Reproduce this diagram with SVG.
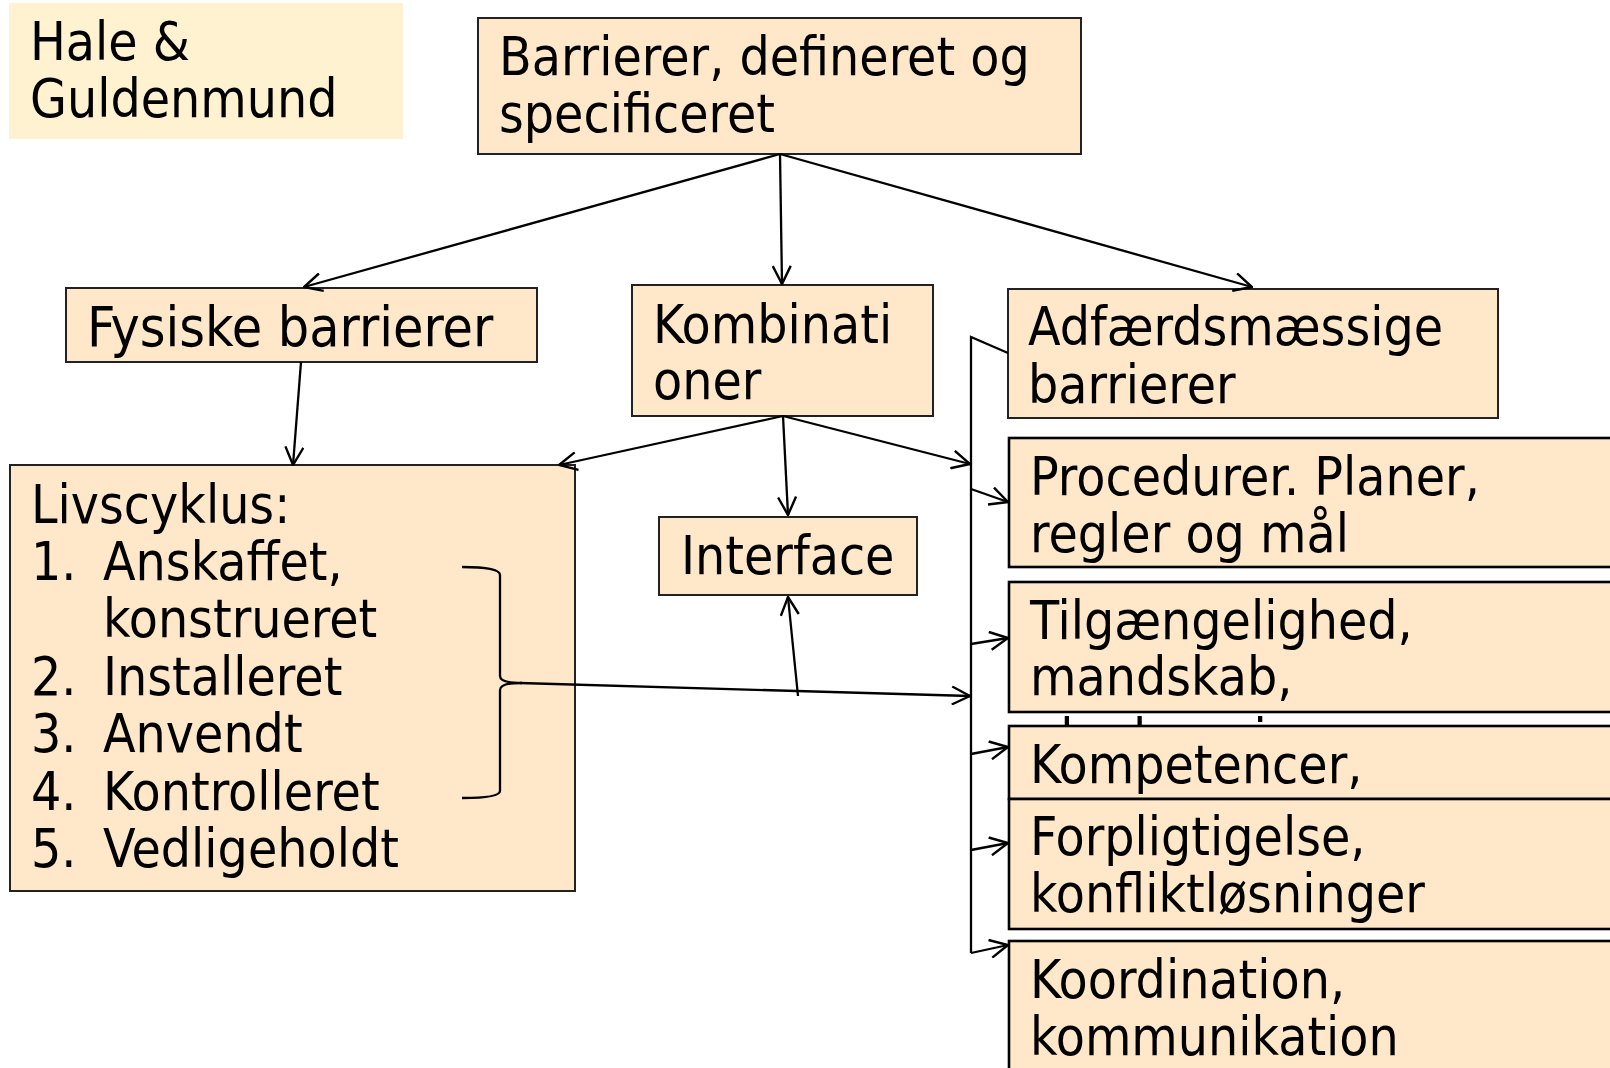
<svg xmlns="http://www.w3.org/2000/svg" width="1610" height="1068" viewBox="0 0 1610 1068">
<defs>
<style>
.t{font-family:"DejaVu Sans Condensed","DejaVu Sans",sans-serif;font-stretch:condensed;font-size:53px;fill:#000}
.box{fill:#FFE8C9;stroke:#222;stroke-width:2}
.boxb{fill:#FFE8C9;stroke:#000;stroke-width:2.6}
.c{fill:none;stroke:#000;stroke-width:2.3}
</style>
<marker id="ah" viewBox="0 0 20 20" refX="19" refY="10" markerWidth="20" markerHeight="20" markerUnits="userSpaceOnUse" orient="auto">
<path d="M1,1 L19,10 L1,19" fill="none" stroke="#000" stroke-width="2.4"/>
</marker>
</defs>
<rect width="1610" height="1068" fill="#fff"/>

<g id="hale">
<rect x="9" y="3" width="394" height="136" fill="#FFF2D0"/>
<text class="t" x="30" y="60">Hale &amp;</text>
<text class="t" x="30" y="117">Guldenmund</text>
</g>

<g id="top">
<rect class="box" x="478" y="18" width="603" height="136"/>
<text class="t" x="499" y="75">Barrierer, defineret og</text>
<text class="t" x="499" y="132">specificeret</text>
</g>

<g id="fysiske">
<rect class="box" x="66" y="288" width="471" height="74"/>
<text class="t" x="87" y="346" style="font-size:55px">Fysiske barrierer</text>
</g>

<g id="kombinationer">
<rect class="box" x="632" y="285" width="301" height="131"/>
<text class="t" x="653" y="343">Kombinati</text>
<text class="t" x="653" y="399">oner</text>
</g>

<g id="adfaerd">
<rect class="box" x="1008" y="289" width="490" height="129"/>
<text class="t" x="1028" y="345">Adfærdsmæssige</text>
<text class="t" x="1028" y="403">barrierer</text>
</g>

<g id="livscyklus">
<rect class="box" x="10" y="465" width="565" height="426"/>
<text class="t" x="31" y="523">Livscyklus:</text>
<text class="t" x="31" y="580">1.</text>
<text class="t" x="103" y="580">Anskaffet,</text>
<text class="t" x="103" y="637">konstrueret</text>
<text class="t" x="31" y="695">2.</text>
<text class="t" x="103" y="695">Installeret</text>
<text class="t" x="31" y="752">3.</text>
<text class="t" x="103" y="752">Anvendt</text>
<text class="t" x="31" y="810">4.</text>
<text class="t" x="103" y="810">Kontrolleret</text>
<text class="t" x="31" y="867">5.</text>
<text class="t" x="103" y="867">Vedligeholdt</text>
</g>

<g id="interface">
<rect class="box" x="659" y="517" width="258" height="78"/>
<text class="t" x="681" y="574">Interface</text>
</g>

<g id="procedurer">
<rect class="boxb" x="1009" y="438" width="640" height="129"/>
<text class="t" x="1030" y="495">Procedurer. Planer,</text>
<text class="t" x="1030" y="552">regler og mål</text>
</g>

<g id="tilgaengelighed">
<rect class="boxb" x="1009" y="582" width="640" height="130"/>
<text class="t" x="1030" y="639">Tilgængelighed,</text>
<text class="t" x="1030" y="695">mandskab,</text>
<text class="t" x="1030" y="757">planlægning</text>
</g>

<g id="kompetencer">
<rect class="boxb" x="1009" y="726" width="640" height="73"/>
<text class="t" x="1030" y="783">Kompetencer,</text>
</g>

<g id="forpligtigelse">
<rect class="boxb" x="1009" y="799" width="640" height="130"/>
<text class="t" x="1030" y="855">Forpligtigelse,</text>
<text class="t" x="1030" y="912">konfliktløsninger</text>
</g>

<g id="koordination">
<rect class="boxb" x="1009" y="941" width="640" height="140"/>
<text class="t" x="1030" y="998">Koordination,</text>
<text class="t" x="1030" y="1055">kommunikation</text>
</g>

<g id="connectors">
<path class="c" d="M780,154 L304,287" marker-end="url(#ah)"/>
<path class="c" d="M780,154 L782,284" marker-end="url(#ah)"/>
<path class="c" d="M780,154 L1252,287" marker-end="url(#ah)"/>
<path class="c" d="M301,362 L293,465" marker-end="url(#ah)"/>
<path class="c" d="M783,416 L559,465" marker-end="url(#ah)"/>
<path class="c" d="M783,416 L788,515" marker-end="url(#ah)"/>
<path class="c" d="M783,416 L970,464" marker-end="url(#ah)"/>
<path class="c" d="M1008,353 L971,337 L971,953"/>
<path class="c" d="M971,489 L1008,502" marker-end="url(#ah)"/>
<path class="c" d="M971,644 L1008,638" marker-end="url(#ah)"/>
<path class="c" d="M971,754 L1008,747" marker-end="url(#ah)"/>
<path class="c" d="M971,850 L1008,843" marker-end="url(#ah)"/>
<path class="c" d="M971,953 L1008,945" marker-end="url(#ah)"/>
<path class="c" d="M462,567 Q500,567 500,575 L500,676 Q500,683 522,683 Q500,683 500,690 L500,791 Q500,798 462,798"/>
<path class="c" d="M520,683 L970,696" marker-end="url(#ah)"/>
<path class="c" d="M798,696 L788,597" marker-end="url(#ah)"/>
</g>
</svg>
